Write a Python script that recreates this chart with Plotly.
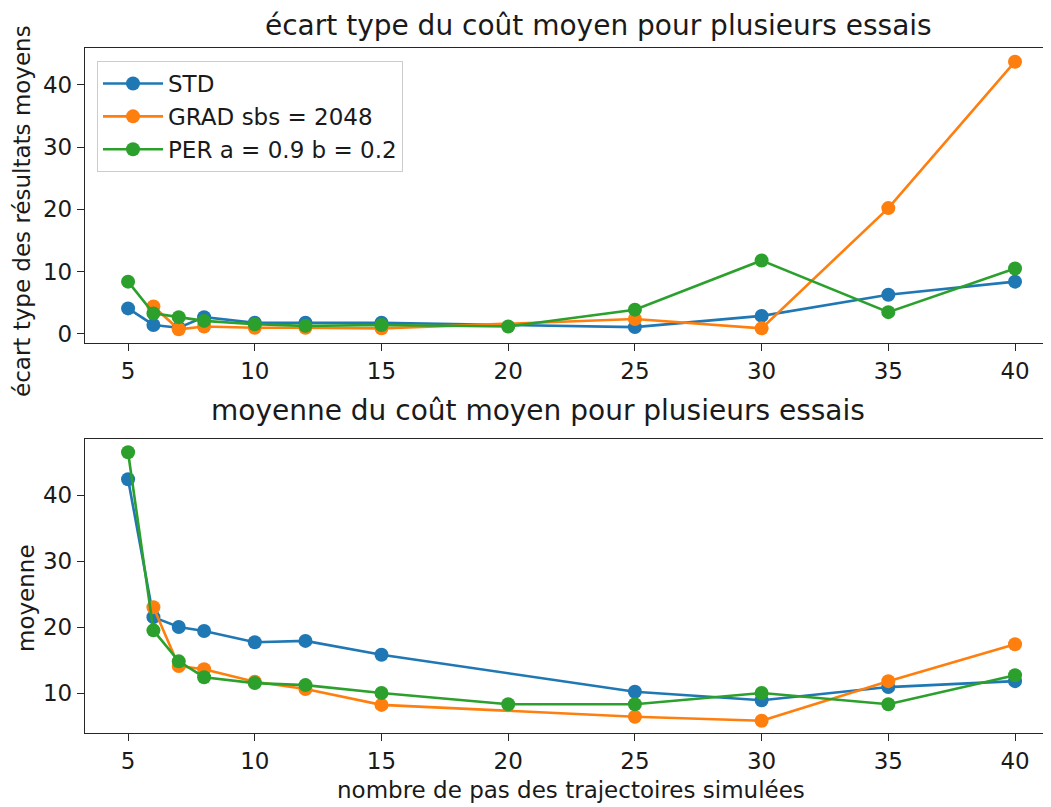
import plotly.graph_objects as go

# ---- data ----
x_std = [5, 6, 7, 8, 10, 12, 15, 25, 30, 35, 40]
x_grad = [6, 7, 8, 10, 12, 15, 25, 30, 35, 40]
x_per = [5, 6, 7, 8, 10, 12, 15, 20, 25, 30, 35, 40]

std_ecart = [4.1, 1.45, 1.0, 2.7, 1.8, 1.8, 1.8, 1.1, 2.9, 6.3, 8.4]
grad_ecart = [4.4, 0.75, 1.2, 1.0, 1.0, 0.9, 2.4, 0.9, 20.2, 43.7]
per_ecart = [8.4, 3.3, 2.7, 2.1, 1.55, 1.3, 1.45, 1.2, 3.9, 11.8, 3.5, 10.5]

std_moy = [42.4, 21.5, 20.0, 19.4, 17.7, 17.9, 15.8, 10.2, 8.9, 10.9, 11.8]
grad_moy = [23.0, 14.1, 13.6, 11.7, 10.6, 8.2, 6.4, 5.8, 11.8, 17.4]
per_moy = [46.5, 19.5, 14.8, 12.4, 11.5, 11.2, 10.0, 8.3, 8.3, 10.0, 8.3, 12.7]

names = ["STD", "GRAD sbs = 2048", "PER a = 0.9 b = 0.2"]
colors = ["#1f77b4", "#ff7f0e", "#2ca02c"]
x_ticks = [5, 10, 15, 20, 25, 30, 35, 40]
y1_ticks = [0, 10, 20, 30, 40]
y2_ticks = [10, 20, 30, 40]

title_top = "écart type du coût moyen pour plusieurs essais"
title_bot = "moyenne du coût moyen pour plusieurs essais"
xlabel = "nombre de pas des trajectoires simulées"
ylabel_top = "écart type des résultats moyens"
ylabel_bot = "moyenne"

# ---- layout geometry (page body has an 8px margin) ----
OFF = 8
W, H = 1051 - OFF, 807 - OFF
ML, MR, MT, MB = 85 - OFF, 0, 48 - OFF, 74
PW, PH = W - ML - MR, H - MT - MB


def px(x):
    return (x - OFF - ML) / PW


def py(y):
    return (H - MB - (y - OFF)) / PH


FONT = "DejaVu Sans"
TXT = "#1a1a1a"
AX = "#262626"

fig = go.Figure()
series = [(x_std, std_ecart, std_moy), (x_grad, grad_ecart, grad_moy), (x_per, per_ecart, per_moy)]
for i, (xs, e, m) in enumerate(series):
    fig.add_trace(go.Scatter(x=xs, y=e, mode="lines+markers", name=names[i],
                             line=dict(color=colors[i], width=2.6),
                             marker=dict(color=colors[i], size=14),
                             xaxis="x", yaxis="y", legendgroup=names[i]))
for i, (xs, e, m) in enumerate(series):
    fig.add_trace(go.Scatter(x=xs, y=m, mode="lines+markers", name=names[i],
                             line=dict(color=colors[i], width=2.6),
                             marker=dict(color=colors[i], size=14),
                             xaxis="x2", yaxis="y2", showlegend=False, legendgroup=names[i]))

axis_common = dict(showline=True, linecolor=AX, linewidth=1.3, ticks="outside",
                   ticklen=7, tickwidth=1.3, tickcolor=AX, showgrid=False, zeroline=False,
                   tickfont=dict(family=FONT, size=23, color=TXT))
xrange = [3.30, 41.42]

fig.update_layout(
    width=W, height=H,
    margin=dict(l=ML, r=MR, t=MT, b=MB, autoexpand=False),
    paper_bgcolor="white", plot_bgcolor="white",
    font=dict(family=FONT, size=23, color=TXT),
    showlegend=True,
    legend=dict(x=px(97), y=py(61), xanchor="left", yanchor="top",
                bgcolor="rgba(255,255,255,0.8)", bordercolor="#cccccc", borderwidth=1,
                font=dict(family=FONT, size=23, color=TXT), itemwidth=60,
                tracegroupgap=0),
    xaxis=dict(domain=[0, 1], anchor="y", range=xrange, tickvals=x_ticks, mirror=True, **axis_common),
    yaxis=dict(domain=[py(343), 1], anchor="x", range=[-1.45, 45.9], tickvals=y1_ticks, **axis_common),
    xaxis2=dict(domain=[0, 1], anchor="y2", range=xrange, tickvals=x_ticks, mirror=True, **axis_common),
    yaxis2=dict(domain=[0, py(439)], anchor="x2", range=[3.94, 48.5], tickvals=y2_ticks, **axis_common),
)

ann = [
    (title_top, 598, 25, 28, 0),
    (title_bot, 538, 410, 28, 0),
    (xlabel, 571, 790, 23, 0),
    (ylabel_top, 22, 211, 23, -90),
    (ylabel_bot, 26, 598, 23, -90),
]
for text, ax_, ay_, fs, ang in ann:
    fig.add_annotation(text=text, xref="paper", yref="paper", x=px(ax_), y=py(ay_),
                       xanchor="center", yanchor="middle", showarrow=False, textangle=ang,
                       font=dict(family=FONT, size=fs, color=TXT))

fig.write_html("out.html")
